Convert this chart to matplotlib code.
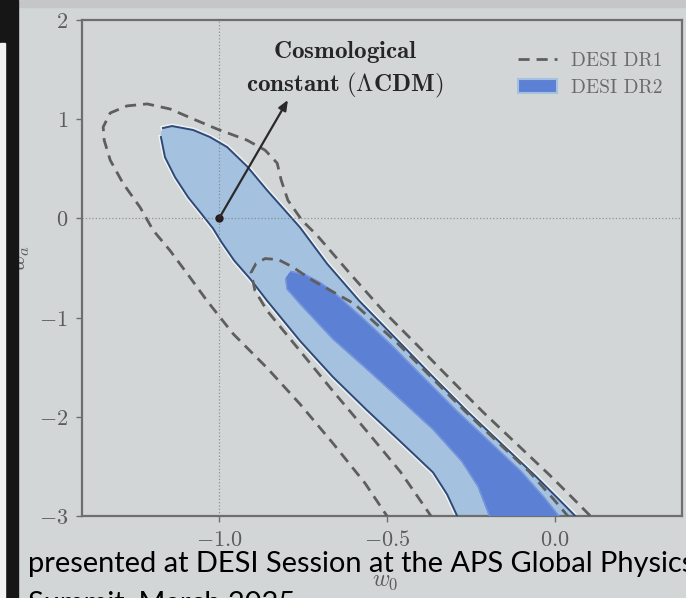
import matplotlib.pyplot as plt
from matplotlib.lines import Line2D
from matplotlib.patches import Patch, Rectangle

plt.rcParams['mathtext.fontset'] = 'cm'

# DESI DR1 contours (dashed), traced as open curves that leave through the bottom axis
dr1_95_w0 = [-0.417, -0.497, -0.565, -0.661, -0.759, -0.857, -0.958, -1.036, -1.086,
             -1.146, -1.196, -1.235, -1.286, -1.324, -1.342, -1.345, -1.324, -1.274,
             -1.214, -1.146, -1.077, -1.006, -0.917, -0.863, -0.827, -0.815, -0.795,
             -0.753, -0.708, -0.610, -0.512, -0.411, -0.312, -0.214, -0.113, -0.015,
             0.054, 0.110, 0.193]
dr1_95_wa = [-3.310, -3.016, -2.672, -2.267, -1.872, -1.508, -1.164, -0.830, -0.597,
             -0.324, -0.121, 0.111, 0.354, 0.587, 0.789, 0.921, 1.063, 1.134,
             1.154, 1.103, 1.002, 0.901, 0.789, 0.688, 0.557, 0.385, 0.182,
             -0.020, -0.172, -0.557, -0.931, -1.275, -1.619, -1.953, -2.277, -2.591,
             -2.824, -3.016, -3.310]

dr1_68_w0 = [-0.298, -0.366, -0.411, -0.461, -0.560, -0.661, -0.759, -0.857, -0.893,
             -0.905, -0.890, -0.863, -0.824, -0.783, -0.720, -0.598, -0.467, -0.366,
             -0.268, -0.170, -0.077, -0.006, 0.042, 0.125]
dr1_68_wa = [-3.310, -3.016, -2.794, -2.551, -2.146, -1.741, -1.336, -0.931, -0.729,
             -0.547, -0.455, -0.405, -0.415, -0.486, -0.628, -0.860, -1.265, -1.609,
             -1.943, -2.257, -2.551, -2.824, -3.016, -3.310]

# DESI DR2 95% region: upper/right edge and lower/left edge, both from the tip downwards
dr2_95_up_w0 = [-1.167, -1.140, -1.077, -1.027, -0.976, -0.917, -0.857, -0.804, -0.759,
                -0.679, -0.583, -0.467, -0.357, -0.259, -0.158, -0.060, 0.009, 0.065, 0.149]
dr2_95_up_wa = [0.911, 0.931, 0.891, 0.820, 0.719, 0.526, 0.283, 0.081, -0.091,
                -0.455, -0.830, -1.235, -1.619, -1.953, -2.277, -2.591, -2.824, -3.016, -3.310]
dr2_95_lo_w0 = [-1.173, -1.161, -1.131, -1.092, -1.051, -1.018, -0.994, -0.955, -0.908,
                -0.857, -0.759, -0.661, -0.560, -0.461, -0.363, -0.321, -0.289, -0.220]
dr2_95_lo_wa = [0.820, 0.617, 0.415, 0.213, 0.040, -0.101, -0.233, -0.425, -0.607,
                -0.830, -1.235, -1.599, -1.933, -2.247, -2.561, -2.783, -3.016, -3.310]

# DESI DR2 68% region
dr2_68_up_w0 = [-0.786, -0.744, -0.699, -0.661, -0.574, -0.491, -0.390, -0.292, -0.193,
                -0.101, -0.030, 0.015, 0.100]
dr2_68_up_wa = [-0.536, -0.567, -0.648, -0.739, -1.002, -1.265, -1.609, -1.943, -2.257,
                -2.551, -2.824, -3.016, -3.310]
dr2_68_lo_w0 = [-0.801, -0.798, -0.759, -0.661, -0.560, -0.461, -0.363, -0.277, -0.229,
                -0.193, -0.140]
dr2_68_lo_wa = [-0.607, -0.709, -0.860, -1.215, -1.518, -1.822, -2.126, -2.449, -2.702,
                -3.016, -3.310]

xticks = [-1.0, -0.5, 0.0]
xtick_labels = [r'$-1.0$', r'$-0.5$', r'$0.0$']
yticks = [-3, -2, -1, 0, 1, 2]
ytick_labels = [r'$-3$', r'$-2$', r'$-1$', r'$0$', r'$1$', r'$2$']

lcdm_w0, lcdm_wa = -1.0, 0.0

bg = '#d3d6d7'
light_blue = '#a4c2df'
dark_blue = '#5c80d4'
navy = '#2f4a78'
dash_grey = '#5e5e5e'
axis_grey = '#6e6e6e'
label_grey = '#5c5c5c'

fig = plt.figure(figsize=(6.86, 5.98), dpi=100, facecolor=bg)
ax = fig.add_axes([82 / 686, 1 - 516 / 598, 600 / 686, 496 / 598])
ax.set_facecolor(bg)

# filled DR2 regions
poly95_w0 = dr2_95_up_w0 + dr2_95_lo_w0[::-1]
poly95_wa = dr2_95_up_wa + dr2_95_lo_wa[::-1]
ax.plot(poly95_w0, poly95_wa, color='white', lw=3.5, alpha=0.7, zorder=1)
ax.fill(poly95_w0, poly95_wa, color=light_blue, zorder=2)
ax.plot(poly95_w0, poly95_wa, color=navy, lw=1.4, zorder=3)

poly68_w0 = dr2_68_up_w0 + dr2_68_lo_w0[::-1]
poly68_wa = dr2_68_up_wa + dr2_68_lo_wa[::-1]
ax.fill(poly68_w0, poly68_wa, color=dark_blue, zorder=3)
ax.plot(poly68_w0, poly68_wa, color='#7796dc', lw=1.0, zorder=3)

# DR1 dashed contours
ax.plot(dr1_95_w0, dr1_95_wa, color=dash_grey, lw=2, ls=(0, (4, 2.5)), zorder=4)
ax.plot(dr1_68_w0, dr1_68_wa, color=dash_grey, lw=2, ls=(0, (4, 2.5)), zorder=4)

# LCDM reference lines
ax.axvline(lcdm_w0, color='#777777', ls=':', lw=0.9, alpha=0.7, zorder=5)
ax.axhline(lcdm_wa, color='#777777', ls=':', lw=0.9, alpha=0.7, zorder=5)

ax.plot(lcdm_w0, lcdm_wa, 'o', color='#2a1a1a', ms=5, zorder=7)
ax.annotate('', xy=(-0.795, 1.194), xytext=(lcdm_w0, lcdm_wa),
            arrowprops=dict(arrowstyle='-|>,head_length=0.6,head_width=0.25',
                            color='#2a2a2a', lw=1.6, shrinkA=0, shrinkB=0), zorder=7)
ax.text(-0.625, 1.505, r'$\mathbf{Cosmological}$' + '\n' + r'$\mathbf{constant\ (\Lambda CDM)}$',
        ha='center', va='center', fontsize=18, color='#262626', linespacing=1.28, zorder=7)

ax.set_xlim(-1.408, 0.378)
ax.set_ylim(-3, 2)
ax.set_xticks(xticks)
ax.set_xticklabels(xtick_labels)
ax.set_yticks(yticks)
ax.set_yticklabels(ytick_labels)
ax.tick_params(direction='out', length=4, width=1, color=axis_grey,
               labelcolor=label_grey, labelsize=16)
ax.tick_params(axis='y', pad=6)
ax.tick_params(axis='x', pad=6)
for sp in ax.spines.values():
    sp.set_color(axis_grey)
    sp.set_linewidth(1.6)

ax.set_xlabel(r'$w_0$', fontsize=17, color=label_grey)
ax.xaxis.set_label_coords(0.505, -0.105)
fig.text(20 / 686, 1 - 258 / 598, r'$w_a$', rotation=90, ha='center', va='center',
         fontsize=17, color=label_grey)

handles = [Line2D([], [], color=dash_grey, lw=2, ls=(0, (4, 2.5))),
           Patch(facecolor=dark_blue, edgecolor=light_blue, lw=1.5)]
leg = ax.legend(handles, ['DESI DR1', 'DESI DR2'], loc='upper left',
                bbox_to_anchor=(518 / 686, 1 - 52 / 598), bbox_transform=fig.transFigure,
                frameon=False, fontsize=14, handlelength=2.0, handletextpad=0.75,
                labelspacing=0.45, borderpad=0, borderaxespad=0)
for t in leg.get_texts():
    t.set_color('#6a6a6a')
    t.set_family('serif')
    t.set_fontname('cmr10')

# slide frame around the photo
fig.patches.append(Rectangle((0, 1 - 7 / 598), 1, 7 / 598, transform=fig.transFigure,
                             color='#c4c6c7', zorder=1))
fig.patches.append(Rectangle((0, 0), 18 / 686, 1, transform=fig.transFigure,
                             color='#161616', zorder=10))
fig.patches.append(Rectangle((0, 0), 5 / 686, 1 - 43 / 598, transform=fig.transFigure,
                             color='#f2f2f2', zorder=11))

# caption overlaid on the slide
cap1 = fig.text(28 / 686, 1 - 572 / 598, 'presented at DESI Session at the APS Global Physics',
                fontsize=22, family='Lato', color='black', va='baseline', zorder=12)
cap2 = fig.text(28 / 686, 1 - 611 / 598, 'Summit, March 2025',
                fontsize=22, family='Lato', color='black', va='baseline', zorder=12)
fig.canvas.draw()
scale = 664 / cap1.get_window_extent().width
cap1.set_fontsize(22 * scale)
cap2.set_fontsize(22 * scale)

fig.savefig('out.png', dpi=100, facecolor=bg)
